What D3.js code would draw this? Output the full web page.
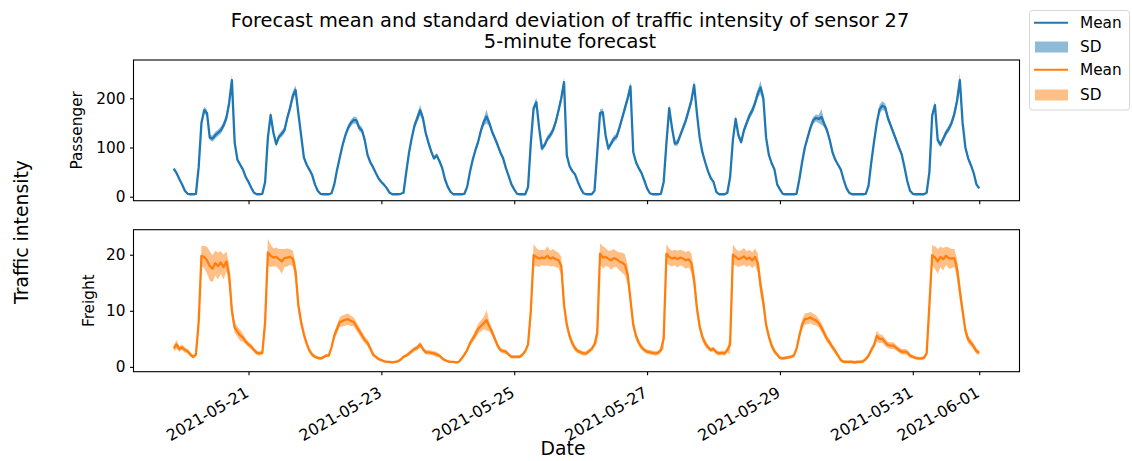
<!DOCTYPE html>
<html>
<head>
<meta charset="utf-8">
<script src="https://cdn.jsdelivr.net/npm/d3@7"></script>
<style>
  html, body { margin: 0; padding: 0; background: #fff; }
  svg { display: block; }
  text { font-family: "DejaVu Sans", "Liberation Sans", sans-serif; fill: #000; }
</style>
</head>
<body>
<svg id="chart" width="1132" height="461"></svg>
<script>
// Hourly forecast, first value at 2021-05-19 21:00 (UTC), one value per hour.
const startTime = "2021-05-19T21:00:00Z";

const xTickLabels = ["2021-05-21", "2021-05-23", "2021-05-25", "2021-05-27",
                     "2021-05-29", "2021-05-31", "2021-06-01"];
const passengerTicks = [0, 100, 200];
const freightTicks = [0, 10, 20];

const legendLabels = ["Mean", "SD", "Mean", "SD"];

// Passenger traffic: forecast mean, one row per day
const passengerMean = [
  57, 48, 36,
  25, 12, 6, 5, 5, 6, 60, 150, 176, 170, 120, 118, 125, 130, 135, 145, 160, 190, 237, 110, 75, 65, 55, 40,
  30, 18, 8, 5, 5, 6, 30, 120, 166, 130, 107, 122, 128, 135, 160, 180, 205, 217, 170, 125, 80, 65, 55, 44,
  25, 12, 6, 5, 5, 5, 7, 25, 55, 80, 105, 125, 140, 150, 156, 155, 140, 135, 115, 85, 70, 60, 48, 37,
  30, 24, 17, 8, 5, 5, 5, 6, 8, 50, 90, 120, 145, 160, 176, 160, 130, 110, 92, 78, 84, 72, 58, 35,
  20, 10, 5, 5, 5, 5, 6, 20, 50, 75, 95, 112, 135, 152, 163, 150, 132, 119, 105, 90, 78, 58, 42, 25,
  15, 6, 5, 5, 5, 20, 110, 180, 192, 140, 98, 105, 118, 125, 135, 152, 175, 200, 233, 84, 62, 52, 45, 30,
  17, 7, 5, 5, 5, 12, 90, 170, 172, 125, 98, 108, 118, 122, 140, 160, 180, 200, 224, 91, 70, 58, 48, 33,
  17, 7, 5, 5, 5, 6, 30, 110, 180, 140, 108, 110, 125, 140, 155, 175, 195, 227, 170, 120, 90, 70, 52, 38,
  30, 10, 5, 5, 5, 8, 40, 115, 158, 125, 111, 135, 150, 165, 175, 190, 210, 222, 200, 120, 85, 68, 56, 25,
  15, 6, 5, 5, 5, 5, 6, 35, 70, 100, 120, 140, 155, 160, 158, 162, 148, 135, 115, 90, 75, 65, 55, 35,
  18, 8, 5, 5, 5, 5, 5, 6, 22, 70, 112, 150, 178, 185, 182, 160, 145, 130, 115, 100, 86, 60, 32, 12,
  6, 5, 5, 5, 5, 8, 50, 165, 186, 115, 106, 118, 130, 138, 150, 168, 195, 237, 150, 100, 78, 64, 48, 25,
  17
];

// Passenger traffic: forecast standard deviation
const passengerSd = [
  2.5, 2.5, 2,
  1.5, 1, 1, 1, 1, 1, 4, 6.5, 7, 6.5, 5.5, 6.5, 7, 6.5, 7, 7, 8, 9.5, 11, 6.5, 4, 3, 3, 2.5,
  1.5, 1, 1, 1, 1, 1, 3, 6.5, 7, 6.5, 5.5, 5.5, 6.5, 6.5, 7, 8, 9, 9.5, 7, 5, 4, 3, 2.5, 2.5,
  1.5, 1, 1, 1, 1, 1, 1, 2.5, 4, 5, 5.5, 5.5, 6.5, 6.5, 7, 7, 6.5, 6.5, 5, 4, 4, 3, 2.5, 2.5,
  1.5, 1.5, 1, 1, 1, 1, 1, 1, 1.5, 4, 5.5, 6.5, 7, 8, 11, 7, 6.5, 5.5, 5, 4, 5, 4, 3, 1.5,
  1.5, 1, 1, 1, 1, 1, 1, 1.5, 3, 5, 5.5, 6.5, 7, 8, 14, 7, 6.5, 5.5, 5, 5, 4, 3, 2.5, 1.5,
  1, 1, 1, 1, 1, 1, 5, 7, 9.5, 6.5, 5.5, 5.5, 6.5, 6.5, 7, 7, 8, 9.5, 10, 5, 3, 3, 2.5, 1.5,
  1, 1, 1, 1, 1, 1, 4, 7, 8, 6.5, 5.5, 5.5, 6.5, 6.5, 7, 7, 8, 9, 9.5, 5, 3, 3, 2.5, 1.5,
  1, 1, 1, 1, 1, 1, 2.5, 6.5, 8, 7, 5.5, 6.5, 6.5, 6.5, 7, 8, 9, 9.5, 8, 5.5, 4, 3, 2.5, 2.5,
  1.5, 1, 1, 1, 1, 1, 2.5, 6.5, 7, 6.5, 5.5, 6.5, 7, 7, 8, 8, 9.5, 13, 9.5, 5.5, 4, 3, 3, 1.5,
  1, 1, 1, 1, 1, 1, 1, 1.5, 3, 5, 5.5, 6.5, 7, 7, 8, 16, 7, 6.5, 5.5, 5, 4, 3, 3, 1.5,
  1, 1, 1, 1, 1, 1, 1, 1, 1.5, 4, 5.5, 7, 9.5, 9, 8, 7, 6.5, 5.5, 5.5, 5, 4, 3, 1.5, 1,
  1, 1, 1, 1, 1, 1, 4, 7, 8, 6.5, 5.5, 5.5, 6.5, 6.5, 7, 8, 9.5, 14, 7, 5, 4, 3, 2.5, 1.5,
  1
];

// Freight traffic: forecast mean, one row per day
const freightMean = [
  3.3, 4.0, 3.2,
  3.5, 3.0, 2.8, 2.2, 1.8, 2.2, 8.0, 19.8, 19.6, 19.0, 18.0, 17.5, 18.5, 18.0, 18.6, 17.8, 18.8, 16.4, 10.0, 7.0, 6.3, 5.6, 5.2, 4.5,
  4.0, 3.6, 3.0, 2.5, 2.4, 2.5, 8.0, 20.4, 19.8, 19.5, 19.6, 19.2, 18.8, 19.4, 19.5, 19.6, 19.3, 17.0, 11.0, 8.0, 5.8, 4.2, 2.9, 2.2,
  1.8, 1.6, 1.5, 1.7, 2.0, 2.0, 3.5, 5.6, 6.8, 8.0, 8.2, 8.4, 8.5, 8.2, 8.0, 7.2, 6.4, 5.6, 4.8, 4.3, 3.3, 2.2, 1.8, 1.4,
  1.2, 1.0, 0.9, 0.9, 0.8, 0.9, 1.0, 1.3, 1.8, 2.0, 2.4, 2.8, 3.2, 3.4, 4.0, 3.2, 2.6, 2.6, 2.5, 2.4, 2.2, 2.0, 1.5, 1.2,
  1.0, 0.9, 0.9, 0.8, 0.9, 1.5, 2.2, 3.0, 4.2, 5.0, 5.8, 6.8, 7.3, 7.8, 8.3, 7.2, 6.2, 5.0, 3.8, 3.0, 2.8, 2.7, 2.2, 1.8,
  1.8, 1.8, 1.8, 2.2, 2.8, 4.0, 10.0, 19.9, 19.6, 19.3, 19.5, 19.4, 19.8, 19.3, 19.5, 19.2, 19.0, 18.0, 11.0, 7.5, 5.5, 4.2, 3.3, 2.8,
  2.6, 2.4, 2.4, 2.8, 3.2, 4.0, 6.0, 20.2, 19.5, 19.6, 19.3, 19.0, 19.4, 19.2, 18.8, 18.6, 18.2, 16.4, 12.0, 7.5, 5.5, 4.3, 3.5, 3.0,
  2.7, 2.6, 2.5, 2.4, 2.5, 3.0, 5.0, 20.2, 19.6, 19.3, 19.5, 19.2, 19.5, 19.3, 19.0, 19.2, 18.5, 15.5, 10.5, 7.2, 5.3, 4.2, 3.5, 3.0,
  3.2, 2.6, 2.4, 2.5, 2.4, 3.0, 4.0, 20.0, 19.6, 19.2, 19.4, 19.7, 19.2, 19.5, 19.0, 19.6, 18.5, 14.5, 11.5, 7.5, 5.4, 3.8, 2.8, 2.2,
  1.6, 1.5, 1.6, 1.7, 1.8, 2.0, 3.2, 5.5, 7.5, 8.5, 8.6, 8.8, 8.5, 8.3, 7.8, 7.0, 6.0, 5.0, 4.3, 3.5, 2.8, 2.0, 1.2, 0.9,
  0.9, 0.9, 0.9, 0.8, 0.9, 0.9, 1.0, 1.4, 2.0, 3.0, 3.9, 5.5, 5.0, 5.0, 4.4, 3.9, 3.8, 3.8, 3.4, 3.0, 2.7, 2.7, 2.6, 2.0,
  1.8, 1.6, 1.5, 1.5, 1.6, 2.4, 11.0, 19.9, 19.5, 18.8, 19.6, 19.2, 19.8, 19.4, 19.3, 19.4, 17.5, 13.5, 10.0, 6.5, 4.9, 4.3, 3.6, 2.8,
  2.5
];

// Freight traffic: forecast standard deviation
const freightSd = [
  0.6, 0.8, 0.5,
  0.5, 0.5, 0.4, 0.4, 0.3, 0.4, 1.8, 1.8, 2.0, 2.4, 2.6, 2.4, 2.2, 2.4, 2.0, 2.2, 1.8, 2.0, 1.4, 0.9, 0.9, 1.0, 0.7, 0.5,
  0.5, 0.5, 0.4, 0.4, 0.4, 0.4, 1.8, 2.4, 2.0, 1.6, 1.7, 1.8, 2.2, 1.6, 1.6, 1.4, 1.4, 1.6, 1.2, 0.9, 0.7, 0.5, 0.4, 0.4,
  0.3, 0.3, 0.3, 0.3, 0.3, 0.3, 0.4, 0.7, 0.8, 0.9, 1.0, 1.0, 1.0, 0.9, 0.8, 0.8, 0.7, 0.7, 0.6, 0.6, 0.5, 0.4, 0.3, 0.3,
  0.2, 0.2, 0.2, 0.2, 0.2, 0.2, 0.2, 0.2, 0.3, 0.3, 0.4, 0.4, 0.4, 0.5, 0.5, 0.4, 0.4, 0.4, 0.4, 0.4, 0.5, 0.3, 0.3, 0.2,
  0.2, 0.2, 0.2, 0.2, 0.2, 0.3, 0.3, 0.4, 0.5, 0.6, 0.8, 0.9, 1.0, 1.1, 1.8, 0.9, 0.7, 0.6, 0.5, 0.4, 0.4, 0.4, 0.3, 0.3,
  0.3, 0.3, 0.3, 0.3, 0.3, 0.4, 1.8, 2.0, 1.6, 1.5, 1.4, 1.4, 1.7, 1.4, 1.5, 1.4, 1.4, 1.6, 1.2, 0.8, 0.7, 0.6, 0.5, 0.4,
  0.4, 0.4, 0.4, 0.4, 0.4, 0.4, 1.8, 1.8, 2.0, 1.6, 1.4, 1.7, 1.6, 1.4, 1.6, 1.8, 1.9, 1.7, 1.2, 0.9, 0.7, 0.6, 0.5, 0.4,
  0.4, 0.4, 0.4, 0.4, 0.4, 0.4, 1.8, 1.7, 1.5, 1.4, 1.4, 1.5, 1.4, 1.4, 1.5, 1.5, 1.7, 1.7, 1.2, 0.8, 0.7, 0.6, 0.5, 0.4,
  0.4, 0.4, 0.4, 0.4, 0.4, 0.4, 1.8, 1.8, 1.5, 1.4, 1.4, 1.5, 1.4, 1.4, 1.4, 1.5, 1.7, 1.8, 1.4, 0.9, 0.7, 0.6, 0.5, 0.3,
  0.3, 0.3, 0.3, 0.3, 0.3, 0.3, 0.5, 0.7, 0.9, 1.0, 1.0, 1.0, 1.0, 0.9, 0.8, 0.8, 0.7, 0.6, 0.6, 0.5, 0.5, 0.4, 0.3, 0.3,
  0.3, 0.3, 0.3, 0.3, 0.3, 0.3, 0.3, 0.3, 0.4, 0.5, 0.6, 1.0, 0.8, 0.7, 0.7, 0.6, 0.6, 0.6, 0.5, 0.5, 0.5, 0.5, 0.5, 0.4,
  0.3, 0.3, 0.3, 0.3, 0.3, 0.4, 1.8, 1.8, 2.0, 2.2, 1.8, 2.0, 1.6, 1.9, 1.7, 1.6, 1.8, 1.6, 1.2, 0.9, 0.7, 0.6, 0.6, 0.5,
  0.4
];

const BLUE = "#1f77b4";
const ORANGE = "#ff7f0e";

const svg = d3.select("#chart");
const t0 = new Date(startTime);
const times = passengerMean.map((_, i) => d3.utcHour.offset(t0, i));

// Shared time axis with a 5% margin on both sides of the data
const [tMin, tMax] = d3.extent(times);
const span = tMax - tMin;
const x = d3.scaleUtc()
  .domain([new Date(+tMin - 0.05 * span), new Date(+tMax + 0.05 * span)])
  .range([133.5, 1019.5]);

const tickDates = xTickLabels.map(s => new Date(s + "T00:00:00Z"));

const panels = [
  { label: "Passenger", mean: passengerMean, sd: passengerSd, color: BLUE,
    ticks: passengerTicks, domain: [-8.1, 277.8], top: 60, bottom: 200.7, labelX: 77 },
  { label: "Freight", mean: freightMean, sd: freightSd, color: ORANGE,
    ticks: freightTicks, domain: [-0.86, 24.46], top: 229.7, bottom: 371.7, labelX: 88.5 }
];

panels.forEach((p, pi) => {
  const y = d3.scaleLinear().domain(p.domain).range([p.bottom, p.top]);
  const g = svg.append("g");
  const rows = p.mean.map((m, i) => ({ t: times[i], m, s: p.sd[i] }));

  // standard deviation band
  g.append("path")
    .datum(rows)
    .attr("fill", p.color)
    .attr("fill-opacity", 0.5)
    .attr("d", d3.area().x(d => x(d.t)).y0(d => y(d.m - d.s)).y1(d => y(d.m + d.s)));

  // mean line
  g.append("path")
    .datum(rows)
    .attr("fill", "none")
    .attr("stroke", p.color)
    .attr("stroke-width", 2.3)
    .attr("stroke-linejoin", "round")
    .attr("d", d3.line().x(d => x(d.t)).y(d => y(d.m)));

  // frame
  g.append("rect")
    .attr("x", 133.5).attr("y", p.top)
    .attr("width", 1019.5 - 133.5).attr("height", p.bottom - p.top)
    .attr("fill", "none").attr("stroke", "#000").attr("stroke-width", 1.1);

  // y axis
  const yAxis = d3.axisLeft(y).tickValues(p.ticks).tickSize(3.5).tickPadding(4.5).tickFormat(d3.format("d"));
  const ya = g.append("g").attr("transform", "translate(133.5,0)").call(yAxis);
  ya.select(".domain").remove();
  ya.selectAll("line").attr("stroke", "#000").attr("stroke-width", 1.1);
  ya.selectAll("text").attr("font-size", "15.3px").attr("font-family", "DejaVu Sans");

  // x axis (labels only on the lower panel)
  const xAxis = d3.axisBottom(x).tickValues(tickDates).tickSize(3.5).tickFormat((d, i) => pi === 1 ? xTickLabels[i] : "");
  const xa = g.append("g").attr("transform", `translate(0,${p.bottom})`).call(xAxis);
  xa.select(".domain").remove();
  xa.selectAll("line").attr("stroke", "#000").attr("stroke-width", 1.1);
  xa.selectAll("text")
    .attr("font-size", "15.8px").attr("font-family", "DejaVu Sans")
    .attr("text-anchor", "end")
    .attr("x", null).attr("y", null).attr("dy", null)
    .attr("transform", "translate(1,24) rotate(-30)");

  // panel label
  svg.append("text")
    .attr("transform", `translate(${p.labelX},${(p.top + p.bottom) / 2}) rotate(-90)`)
    .attr("text-anchor", "middle").attr("dominant-baseline", "central")
    .attr("font-size", "15.3px")
    .text(p.label);
});

// title
svg.append("text").attr("x", 570).attr("y", 27).attr("text-anchor", "middle").attr("font-size", "19.4px")
  .text("Forecast mean and standard deviation of traffic intensity of sensor 27");
svg.append("text").attr("x", 570).attr("y", 48).attr("text-anchor", "middle").attr("font-size", "19.4px")
  .text("5-minute forecast");

// shared axis labels
svg.append("text").attr("x", 563).attr("y", 455).attr("text-anchor", "middle").attr("font-size", "18.8px")
  .text("Date");
svg.append("text")
  .attr("transform", "translate(21,232) rotate(-90)")
  .attr("text-anchor", "middle").attr("dominant-baseline", "central")
  .attr("font-size", "18.8px")
  .text("Traffic intensity");

// legend
const lg = svg.append("g");
lg.append("rect").attr("x", 1029.5).attr("y", 10.5).attr("width", 100).attr("height", 99.5)
  .attr("rx", 3).attr("fill", "#fff").attr("stroke", "#d6d6d6").attr("stroke-width", 1);
const legendItems = [
  { kind: "line", color: BLUE, cy: 22.7 },
  { kind: "patch", color: BLUE, cy: 47 },
  { kind: "line", color: ORANGE, cy: 69.7 },
  { kind: "patch", color: ORANGE, cy: 95 }
];
legendItems.forEach((it, i) => {
  if (it.kind === "line") {
    lg.append("line").attr("x1", 1034).attr("x2", 1068).attr("y1", it.cy).attr("y2", it.cy)
      .attr("stroke", it.color).attr("stroke-width", 2.1);
  } else {
    lg.append("rect").attr("x", 1035).attr("y", it.cy - 5.5).attr("width", 33).attr("height", 11)
      .attr("fill", it.color).attr("fill-opacity", 0.5);
  }
  lg.append("text").attr("x", 1080).attr("y", it.cy).attr("dominant-baseline", "central")
    .attr("font-size", "15.3px").text(legendLabels[i]);
});
</script>
</body>
</html>
